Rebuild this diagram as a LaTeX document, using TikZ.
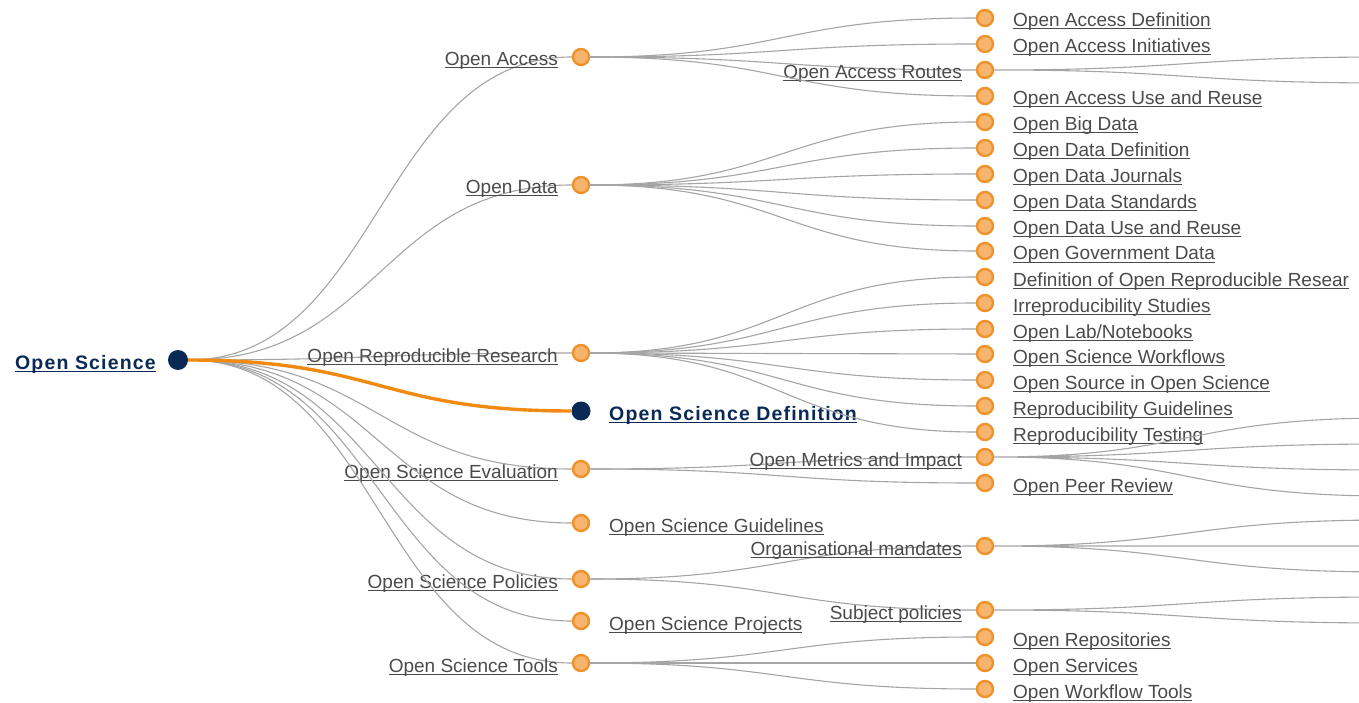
\documentclass[tikz,border=0pt]{standalone}
\usepackage{fontspec}
\setmainfont{Liberation Sans}
\newfontfamily\boldlbl[LetterSpace=6]{Liberation Sans}
\usetikzlibrary{calc}

\definecolor{ostxt}{HTML}{4A4A4A}
\definecolor{osnavy}{HTML}{0A2A55}
\definecolor{osorange}{HTML}{F08A12}
\definecolor{osring}{HTML}{F0922A}
\definecolor{osfill}{HTML}{F6B46E}
\definecolor{oslink}{HTML}{A5A5A5}

\newcommand{\lnk}[1]{\setbox0=\hbox{#1}\rlap{\rule[-2.5pt]{\wd0}{1pt}}\box0}

\tikzstyle{topic}=[shape=circle,draw=osring,fill=osfill,line width=2.4pt,minimum size=16pt,inner sep=0pt]
\tikzstyle{hub}=[shape=circle,fill=osnavy,minimum size=20pt,inner sep=0pt]
\tikzstyle{lbl}=[inner sep=0pt,text=ostxt,font=\fontsize{19}{22}\selectfont]
\tikzstyle{lblleft}=[lbl,anchor=base east]
\tikzstyle{lblright}=[lbl,anchor=base west]
\tikzstyle{mainlbl}=[lblright,text=osnavy,font=\boldlbl\bfseries\fontsize{19.5}{22}\selectfont]
\tikzstyle{link}=[draw=oslink,line width=1.1pt,
  to path={.. controls ($(\tikztostart)!0.5!(\tikztostart -| \tikztotarget)$)
    and ($(\tikztotarget)!0.5!(\tikztotarget -| \tikztostart)$) .. (\tikztotarget) \tikztonodes}]
\tikzstyle{mainlink}=[link,draw=osorange,line width=3.4pt]

\begin{document}
\begin{tikzpicture}[x=1pt,y=-1pt]
\useasboundingbox (0,0) rectangle (1359,703);
\clip (0,0) rectangle (1359,703);
% root
\node[hub] (os) at (178,360) {};
\node[mainlbl,anchor=base east] (os_t) at (156,369) {\lnk{Open Science}};
% 1st level
\node[topic] (oa) at (581,57) {} edge[link] (os);
\node[lblleft] (oa_t) at (558,66) {\lnk{Open Access}};
\node[topic] (od) at (581,185) {} edge[link] (os);
\node[lblleft] (od_t) at (558,194) {\lnk{Open Data}};
\node[topic] (orr) at (581,353) {} edge[link] (os);
\node[lblleft] (orr_t) at (558,362) {\lnk{Open Reproducible Research}};
\node[topic] (ose) at (581,469) {} edge[link] (os);
\node[lblleft] (ose_t) at (558,478) {\lnk{Open Science Evaluation}};
\node[topic] (osg) at (581,523) {} edge[link] (os);
\node[lblright] (osg_t) at (609,532) {\lnk{Open Science Guidelines}};
\node[topic] (osp) at (581,579) {} edge[link] (os);
\node[lblleft] (osp_t) at (558,588) {\lnk{Open Science Policies}};
\node[topic] (ospr) at (581,621) {} edge[link] (os);
\node[lblright] (ospr_t) at (609,630) {\lnk{Open Science Projects}};
\node[topic] (ost) at (581,663) {} edge[link] (os);
\node[lblleft] (ost_t) at (558,672) {\lnk{Open Science Tools}};
\node[hub,minimum size=19pt] (osd) at (581,411) {} edge[mainlink] (os);
\node[mainlbl] (osd_t) at (609,420) {\lnk{Open Science Definition}};
% 2nd level: open access
\node[topic] (oa_def) at (985,18) {} edge[link] (oa);
\node[lblright] (oa_def_t) at (1013,27) {\lnk{Open Access Definition}};
\node[topic] (oa_ini) at (985,44) {} edge[link] (oa);
\node[lblright] (oa_ini_t) at (1013,53) {\lnk{Open Access Initiatives}};
\node[topic] (oa_rou) at (985,70) {} edge[link] (oa);
\node[lblleft] (oa_rou_t) at (962,79) {\lnk{Open Access Routes}};
\node[topic] (oa_use) at (985,96) {} edge[link] (oa);
\node[lblright] (oa_use_t) at (1013,105) {\lnk{Open Access Use and Reuse}};
% 2nd level: open data
\node[topic] (od_big) at (985,122) {} edge[link] (od);
\node[lblright] (od_big_t) at (1013,131) {\lnk{Open Big Data}};
\node[topic] (od_def) at (985,148) {} edge[link] (od);
\node[lblright] (od_def_t) at (1013,157) {\lnk{Open Data Definition}};
\node[topic] (od_jou) at (985,174) {} edge[link] (od);
\node[lblright] (od_jou_t) at (1013,183) {\lnk{Open Data Journals}};
\node[topic] (od_std) at (985,200) {} edge[link] (od);
\node[lblright] (od_std_t) at (1013,209) {\lnk{Open Data Standards}};
\node[topic] (od_use) at (985,226) {} edge[link] (od);
\node[lblright] (od_use_t) at (1013,235) {\lnk{Open Data Use and Reuse}};
\node[topic] (od_gov) at (985,251) {} edge[link] (od);
\node[lblright] (od_gov_t) at (1013,260) {\lnk{Open Government Data}};
% 2nd level: open reproducible research
\node[topic] (orr_def) at (985,277) {} edge[link] (orr);
\node[lblright] (orr_def_t) at (1013,286) {\lnk{Definition of Open Reproducible Resear}};
\node[topic] (orr_irr) at (985,303) {} edge[link] (orr);
\node[lblright] (orr_irr_t) at (1013,312) {\lnk{Irreproducibility Studies}};
\node[topic] (orr_lab) at (985,329) {} edge[link] (orr);
\node[lblright] (orr_lab_t) at (1013,338) {\lnk{Open Lab/Notebooks}};
\node[topic] (orr_wf) at (985,354) {} edge[link] (orr);
\node[lblright] (orr_wf_t) at (1013,363) {\lnk{Open Science Workflows}};
\node[topic] (orr_src) at (985,380) {} edge[link] (orr);
\node[lblright] (orr_src_t) at (1013,389) {\lnk{Open Source in Open Science}};
\node[topic] (orr_gl) at (985,406) {} edge[link] (orr);
\node[lblright] (orr_gl_t) at (1013,415) {\lnk{Reproducibility Guidelines}};
\node[topic] (orr_test) at (985,432) {} edge[link] (orr);
\node[lblright] (orr_test_t) at (1013,441) {\lnk{Reproducibility Testing}};
% 2nd level: evaluation
\node[topic] (ose_met) at (985,457) {} edge[link] (ose);
\node[lblleft] (ose_met_t) at (962,466) {\lnk{Open Metrics and Impact}};
\node[topic] (ose_peer) at (985,483) {} edge[link] (ose);
\node[lblright] (ose_peer_t) at (1013,492) {\lnk{Open Peer Review}};
% 2nd level: policies
\node[topic] (osp_org) at (985,546) {} edge[link] (osp);
\node[lblleft] (osp_org_t) at (962,555) {\lnk{Organisational mandates}};
\node[topic] (osp_sub) at (985,610) {} edge[link] (osp);
\node[lblleft] (osp_sub_t) at (962,619) {\lnk{Subject policies}};
% 2nd level: tools
\node[topic] (ost_rep) at (985,637) {} edge[link] (ost);
\node[lblright] (ost_rep_t) at (1013,646) {\lnk{Open Repositories}};
\node[topic] (ost_svc) at (985,663) {} edge[link] (ost);
\node[lblright] (ost_svc_t) at (1013,672) {\lnk{Open Services}};
\node[topic] (ost_wf) at (985,689) {} edge[link] (ost);
\node[lblright] (ost_wf_t) at (1013,698) {\lnk{Open Workflow Tools}};
% 3rd level (off the page)
\coordinate (oa_rou_1) at (1389,57);
\coordinate (oa_rou_2) at (1389,83);
\coordinate (ose_met_1) at (1389,418);
\coordinate (ose_met_2) at (1389,444);
\coordinate (ose_met_3) at (1389,470);
\coordinate (ose_met_4) at (1389,496);
\coordinate (osp_org_1) at (1389,520);
\coordinate (osp_org_2) at (1389,546);
\coordinate (osp_org_3) at (1389,572);
\coordinate (osp_sub_1) at (1389,597);
\coordinate (osp_sub_2) at (1389,623);
\draw[link] (oa_rou) to (oa_rou_1) (oa_rou) to (oa_rou_2);
\draw[link] (ose_met) to (ose_met_1) (ose_met) to (ose_met_2)
  (ose_met) to (ose_met_3) (ose_met) to (ose_met_4);
\draw[link] (osp_org) to (osp_org_1) (osp_org) to (osp_org_2) (osp_org) to (osp_org_3);
\draw[link] (osp_sub) to (osp_sub_1) (osp_sub) to (osp_sub_2);
\end{tikzpicture}
\end{document}
